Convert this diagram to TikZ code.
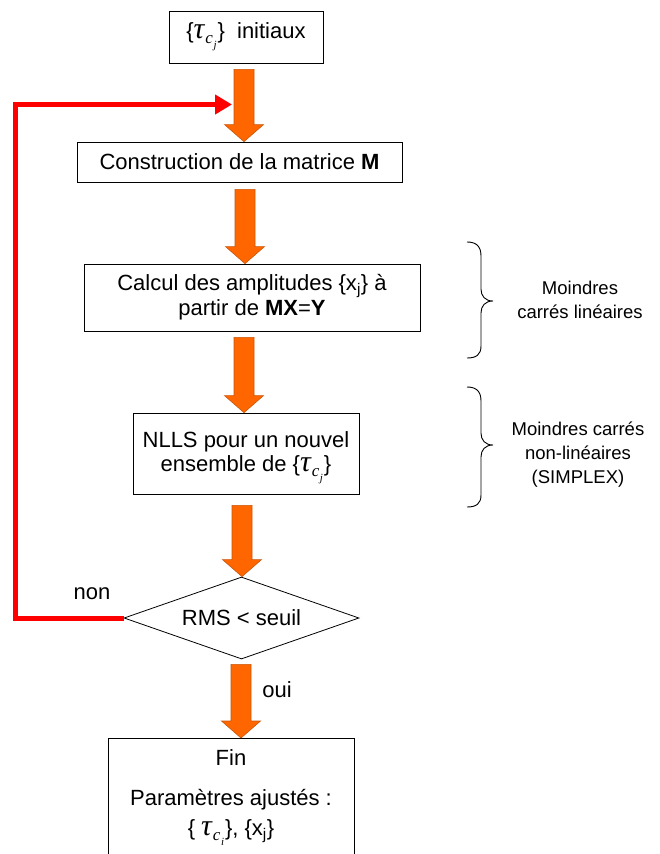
\documentclass[tikz,border=0pt]{standalone}
\usepackage{fontspec}
\setmainfont{Liberation Sans}
\newfontfamily\taufont{Liberation Serif}
\usetikzlibrary{shapes.geometric,arrows.meta,calc}
\definecolor{arrfill}{HTML}{FF6600}
\definecolor{arrline}{HTML}{C85508}
\definecolor{loopred}{HTML}{FF0000}
\newcommand\mainsz{\fontsize{22}{25}\selectfont}
\newcommand\sidesz{\fontsize{18.5}{24}\selectfont}
% tau with double subscript, set in a Times-like italic
\newcommand\tausub[1]{{\taufont\itshape\fontsize{30}{25}\selectfont τ}\kern1pt\raisebox{-5pt}{\taufont\itshape\fontsize{17}{17}\selectfont c}\kern0.5pt\raisebox{-10pt}{\taufont\itshape\fontsize{11}{11}\selectfont #1}\kern1pt}
\tikzset{
  box/.style={draw=black, line width=0.8pt, fill=white, inner sep=0pt, align=center, font=\mainsz},
  plain/.style={inner sep=0pt, align=center, font=\mainsz},
  sidetext/.style={inner sep=0pt, align=center, font=\sidesz},
  bigarrow/.style={fill=arrfill, draw=arrline, line width=0.6pt, line join=miter},
  bracestyle/.style={draw=black, line width=0.9pt},
  loop/.style={draw=loopred, line width=5pt, line join=miter, -{Triangle[length=17pt,width=19pt]}}
}
% #1 = x (pt), #2 = start anchor, #3 = end anchor, #4 = gap below start
\newcommand\orarrow[4]{%
  \filldraw[bigarrow] let \p1=(#2), \p2=(#3) in
    (#1pt-10pt,\y1-#4pt) -- (#1pt-10pt,\y2+17pt) -- (#1pt-19.5pt,\y2+17pt)
    -- (#1pt,\y2) -- (#1pt+19.5pt,\y2+17pt) -- (#1pt+10pt,\y2+17pt)
    -- (#1pt+10pt,\y1-#4pt) -- cycle;}
\begin{document}
\begin{tikzpicture}[x=1pt,y=-1pt]
\clip (0,0) rectangle (659,854);
\fill[white] (0,0) rectangle (659,854);

\node[box, minimum width=154, minimum height=52] (init) at (246,37) {\{\tausub{j}\}\ \ initiaux};
\node[box, minimum width=325, minimum height=40] (constr) at (239.5,162) {Construction de la matrice \textbf{M}};
\node[box, minimum width=336, minimum height=67] (calc) at (252,297.5) {Calcul des amplitudes \{x\textsubscript{j}\} à\\ partir de \textbf{MX}=\textbf{Y}};
\node[box, minimum width=226, minimum height=81] (nlls) at (246,453.5) {};
\node[plain] (nlls1) at (246,442) {NLLS pour un nouvel};
\node[plain] (nlls2) at (246,470) {ensemble de \{\tausub{j}\}};
\node[draw=black, line width=0.8pt, diamond, shape aspect=2.866, minimum width=235, minimum height=82, inner sep=0pt, font=\mainsz] (rms) at (241.5,618) {RMS < seuil};
\node[box, anchor=north, minimum width=246, minimum height=150] (fin) at (231,738) {};
\node[plain] (fin1) at ($(fin.north)+(0,20)$) {Fin};
\node[plain] (fin2) at ($(fin.north)+(0,62)$) {Paramètres ajustés :};
\node[plain] (fin3) at ($(fin.north)+(0,95)$) {\{\ \tausub{i}\}, \{x\textsubscript{j}\}};

\orarrow{244}{init.south}{constr.north}{6}
\orarrow{245}{constr.south}{calc.north}{7}
\orarrow{244}{calc.south}{nlls.north}{6}
\orarrow{242}{nlls.south}{rms.north}{11}
\orarrow{241}{rms.south}{fin.north}{5}

\node[plain] (non) at (92,594) {non};
\node[plain] (oui) at (277,690) {oui};

\coordinate (c1) at (15.5,618);
\coordinate (c2) at (15.5,104.5);
\coordinate (redend) at (232,104.5);
\draw[loop] (rms.west) -- (c1) -- (c2) -- (redend);

\draw[bracestyle] (467,242) .. controls (476,242) and (481,246) .. (481,256) -- (481,289)
  .. controls (481,296) and (485,301) .. (493,301)
  .. controls (485,301) and (481,306) .. (481,313) -- (481,346)
  .. controls (481,355) and (476,358) .. (467,358);
\draw[bracestyle] (467,387) .. controls (476,387) and (481,391) .. (481,401) -- (481,433)
  .. controls (481,440) and (485,445) .. (493,445)
  .. controls (485,445) and (481,450) .. (481,457) -- (481,495)
  .. controls (481,504) and (476,507) .. (467,507);

\node[sidetext] (lin) at (580,300) {Moindres\\carrés linéaires};
\node[sidetext] (nlin) at (578,455) {Moindres carrés\\non-linéaires\\(SIMPLEX)};
\end{tikzpicture}
\end{document}
